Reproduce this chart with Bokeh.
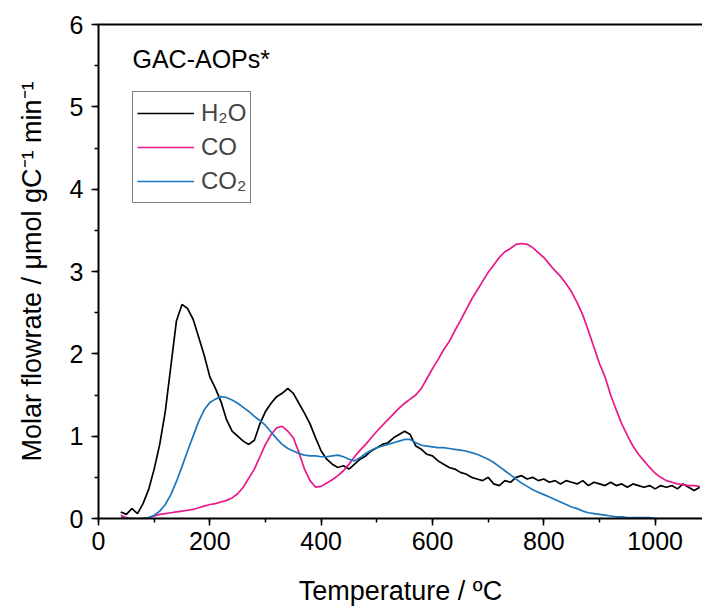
from bokeh.plotting import figure
from bokeh.models import (Range1d, LinearAxis, SingleIntervalTicker, FixedTicker,
                          Legend, LegendItem, Label, ColumnDataSource)
from bokeh.embed import file_html
from bokeh.resources import INLINE

# ---------------- data ----------------
temperature = list(range(40, 1081, 10))

h2o = [0.08, 0.05, 0.12, 0.06, 0.18, 0.35, 0.60, 0.90, 1.30, 1.85,
       2.40, 2.60, 2.55, 2.42, 2.20, 1.98, 1.72, 1.58, 1.42, 1.20,
       1.06, 1.00, 0.94, 0.90, 0.95, 1.15, 1.30, 1.40, 1.48, 1.52,
       1.58, 1.52, 1.40, 1.28, 1.15, 0.98, 0.82, 0.72, 0.66, 0.62,
       0.64, 0.60, 0.66, 0.72, 0.76, 0.82, 0.86, 0.90, 0.92, 0.98,
       1.02, 1.06, 1.02, 0.88, 0.84, 0.78, 0.76, 0.70, 0.66, 0.62,
       0.60, 0.56, 0.54, 0.50, 0.48, 0.46, 0.50, 0.42, 0.40, 0.46,
       0.44, 0.50, 0.52, 0.48, 0.50, 0.46, 0.48, 0.44, 0.46, 0.42,
       0.46, 0.44, 0.42, 0.46, 0.40, 0.44, 0.42, 0.40, 0.44, 0.40,
       0.42, 0.38, 0.42, 0.40, 0.38, 0.40, 0.36, 0.40, 0.38, 0.40,
       0.36, 0.42, 0.38, 0.34, 0.38]

co = [0.04, 0.01, 0.00, 0.00, 0.00, 0.01, 0.03, 0.05, 0.06, 0.07,
      0.08, 0.09, 0.10, 0.11, 0.13, 0.15, 0.17, 0.18, 0.20, 0.22,
      0.25, 0.30, 0.38, 0.49, 0.60, 0.75, 0.90, 1.02, 1.10, 1.12,
      1.06, 0.98, 0.80, 0.60, 0.46, 0.38, 0.39, 0.43, 0.47, 0.52,
      0.58, 0.66, 0.75, 0.83, 0.90, 0.98, 1.06, 1.13, 1.20, 1.27,
      1.34, 1.40, 1.45, 1.50, 1.58, 1.70, 1.82, 1.93, 2.05, 2.15,
      2.28, 2.40, 2.53, 2.66, 2.77, 2.88, 2.99, 3.08, 3.17, 3.24,
      3.28, 3.33, 3.34, 3.33, 3.29, 3.23, 3.17, 3.09, 3.01, 2.94,
      2.85, 2.75, 2.62, 2.47, 2.28, 2.08, 1.88, 1.72, 1.50, 1.32,
      1.15, 1.01, 0.88, 0.78, 0.70, 0.62, 0.55, 0.50, 0.46, 0.44,
      0.42, 0.41, 0.40, 0.40, 0.39]

co2 = [0.01, 0.00, 0.00, 0.00, 0.00, 0.01, 0.04, 0.09, 0.17, 0.29,
       0.45, 0.63, 0.82, 1.00, 1.18, 1.32, 1.41, 1.45, 1.48, 1.47,
       1.44, 1.40, 1.35, 1.30, 1.24, 1.19, 1.13, 1.05, 0.97, 0.90,
       0.85, 0.82, 0.79, 0.77, 0.76, 0.76, 0.75, 0.75, 0.76, 0.77,
       0.75, 0.72, 0.70, 0.74, 0.79, 0.83, 0.86, 0.88, 0.90, 0.92,
       0.94, 0.96, 0.96, 0.92, 0.89, 0.88, 0.87, 0.86, 0.86, 0.85,
       0.84, 0.83, 0.82, 0.80, 0.78, 0.75, 0.72, 0.68, 0.63, 0.58,
       0.53, 0.48, 0.43, 0.39, 0.35, 0.32, 0.29, 0.26, 0.23, 0.20,
       0.17, 0.14, 0.12, 0.09, 0.07, 0.06, 0.05, 0.04, 0.03, 0.02,
       0.02, 0.01, 0.01, 0.01, 0.01, 0.01, 0.00, 0.00, 0.00, 0.00,
       0.00, 0.00, 0.00, 0.00, 0.00]

series_names = ["H\u2082O", "CO", "CO\u2082"]
series_colors = ["#000000", "#E8178A", "#1C76BC"]

FONT = "Liberation Sans"

# ---------------- figure ----------------
p = figure(width=702, height=609, output_backend="svg", toolbar_location=None,
           x_range=Range1d(0, 1085), y_range=Range1d(0, 6),
           min_border_left=98, min_border_right=0, min_border_top=24,
           min_border_bottom=91, x_axis_location=None, y_axis_location=None)
p.xgrid.visible = False
p.ygrid.visible = False
p.outline_line_color = None
p.background_fill_color = "white"
p.border_fill_color = "white"

src = ColumnDataSource(dict(t=temperature, h2o=h2o, co=co, co2=co2))
renderers = []
for key, col in zip(["h2o", "co", "co2"], series_colors):
    r = p.line("t", key, source=src, line_color=col, line_width=1.7)
    renderers.append(r)

def style_axis(ax):
    ax.axis_line_width = 2
    ax.axis_line_color = "black"
    ax.major_tick_line_width = 1.5
    ax.minor_tick_line_width = 1.5
    ax.major_tick_in = 0
    ax.major_tick_out = 7
    ax.minor_tick_in = 0
    ax.minor_tick_out = 4
    ax.major_label_text_font = FONT
    ax.major_label_text_font_size = "25px"
    ax.major_label_text_color = "black"
    ax.axis_label_text_font = FONT
    ax.axis_label_text_font_size = "27px"
    ax.axis_label_text_font_style = "normal"
    ax.axis_label_text_color = "black"

xaxis = LinearAxis(ticker=SingleIntervalTicker(interval=200, num_minor_ticks=2),
                   axis_label="Temperature / \u00baC")
style_axis(xaxis)
xaxis.major_label_standoff = 6
xaxis.axis_label_standoff = 23
p.add_layout(xaxis, "below")

yaxis = LinearAxis(ticker=SingleIntervalTicker(interval=1, num_minor_ticks=2),
                   axis_label="Molar flowrate / \u03bcmol gC\u207b\u00b9 min\u207b\u00b9")
style_axis(yaxis)
yaxis.major_label_standoff = 8
yaxis.axis_label_standoff = 20
p.add_layout(yaxis, "left")

top = LinearAxis(ticker=FixedTicker(ticks=[]))
top.axis_line_width = 2
top.major_label_text_font_size = "0px"
top.major_tick_out = 0
top.minor_tick_out = 0
p.add_layout(top, "above")

legend = Legend(items=[LegendItem(label=n, renderers=[r])
                       for n, r in zip(series_names, renderers)],
                location=(34, 315), margin=0, padding=4, spacing=0,
                glyph_width=57, glyph_height=34, label_height=34,
                label_standoff=7, label_text_font=FONT,
                label_text_font_size="24px",
                border_line_color="black", border_line_width=1,
                background_fill_alpha=1.0)
p.add_layout(legend, "center")

p.add_layout(Label(x=34, y=460, x_units="screen", y_units="screen",
                   text="GAC-AOPs*", text_font=FONT, text_font_size="25px",
                   text_baseline="middle", text_color="black"))

open("out.html", "w").write(file_html(p, INLINE))
